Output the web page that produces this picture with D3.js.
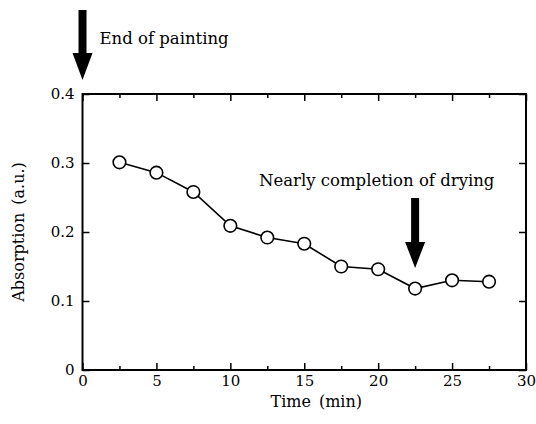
<!DOCTYPE html>
<html lang="en">
<head>
<meta charset="UTF-8">
<title>Absorption vs time</title>
<script src="https://d3js.org/d3.v7.min.js"></script>
<style>
  body { margin: 0; background: #fff; }
  svg { display: block; }
</style>
</head>
<body>
<svg id="chart" width="536" height="424"></svg>
<script>
// data
const times = [2.5, 5, 7.5, 10, 12.5, 15, 17.5, 20, 22.5, 25, 27.5];
const absorption = [0.301, 0.286, 0.258, 0.209, 0.192, 0.183, 0.150, 0.146, 0.118, 0.130, 0.128];
const xTicks = [0, 5, 10, 15, 20, 25, 30];
const xMinor = [2.5, 7.5, 12.5, 17.5, 22.5, 27.5];
const yTicks = [0, 0.1, 0.2, 0.3, 0.4];
const notes = [
  { t: 0, label: "End of painting" },
  { t: 22.5, label: "Nearly completion of drying" }
];

const serif = "'DejaVu Serif', serif";

const svg = d3.select("#chart").attr("font-family", serif);
const margin = { top: 94, right: 10, bottom: 54, left: 82.5 };
const width = 536 - margin.left - margin.right;
const height = 424 - margin.top - margin.bottom;
const g = svg.append("g").attr("transform", `translate(${margin.left},${margin.top})`);

const x = d3.scaleLinear().domain([0, 30]).range([0, width]);
const y = d3.scaleLinear().domain([0, 0.4]).range([height, 0]);

const fmtY = d => d === 0 ? "0" : d3.format(".1f")(d);

// bottom axis with labels, inward ticks
g.append("g")
  .attr("transform", `translate(0,${height})`)
  .call(d3.axisBottom(x).tickValues(xTicks).tickSizeInner(-7).tickSizeOuter(0).tickPadding(5));
g.append("g")
  .attr("transform", `translate(0,${height})`)
  .call(d3.axisBottom(x).tickValues(xMinor).tickSize(-4).tickFormat(""));

// top axis ticks
g.append("g")
  .call(d3.axisTop(x).tickValues(xTicks).tickSize(-7).tickFormat(""));
g.append("g")
  .call(d3.axisTop(x).tickValues(xMinor).tickSize(-4).tickFormat(""));

// left axis
g.append("g")
  .call(d3.axisLeft(y).tickValues(yTicks).tickFormat(fmtY).tickSizeInner(-7).tickSizeOuter(0).tickPadding(8));

// right axis ticks
g.append("g")
  .attr("transform", `translate(${width},0)`)
  .call(d3.axisRight(y).tickValues(yTicks).tickSize(-7).tickFormat(""));

svg.selectAll("g").attr("font-family", null).attr("font-size", null);
svg.selectAll(".tick text").style("font-size", "15px").style("font-family", serif);
svg.selectAll(".domain").remove();
svg.selectAll(".tick line").attr("stroke", "#000").attr("stroke-width", 1.5);

// frame
g.append("rect")
  .attr("width", width).attr("height", height)
  .attr("fill", "none").attr("stroke", "#000").attr("stroke-width", 2);

// axis titles
svg.append("text")
  .attr("x", margin.left + x(15) + 12).attr("y", 407)
  .attr("text-anchor", "middle").style("font-size", "16px")
  .text("Time\u2002(min)");
svg.append("text")
  .attr("transform", `translate(24,${margin.top + y(0.2)}) rotate(-90)`)
  .attr("text-anchor", "middle").style("font-size", "16px")
  .text("Absorption\u2002(a.u.)");

// series
const pts = times.map((t, i) => ({ t, v: absorption[i] }));
g.append("path")
  .datum(pts)
  .attr("fill", "none").attr("stroke", "#000").attr("stroke-width", 1.6)
  .attr("d", d3.line().x(d => x(d.t)).y(d => y(d.v)));
g.selectAll("circle.pt")
  .data(pts)
  .enter().append("circle")
  .attr("class", "pt")
  .attr("cx", d => x(d.t)).attr("cy", d => y(d.v))
  .attr("r", 6.3)
  .attr("fill", "#fff").attr("stroke", "#000").attr("stroke-width", 1.6);

// annotation arrows
function arrow(cx, top, headStart, tip) {
  const p = d3.path();
  p.moveTo(cx - 4, top);
  p.lineTo(cx + 4, top);
  p.lineTo(cx + 4, headStart);
  p.lineTo(cx + 10, headStart);
  p.lineTo(cx, tip);
  p.lineTo(cx - 10, headStart);
  p.lineTo(cx - 4, headStart);
  p.closePath();
  svg.append("path").attr("d", p.toString()).attr("fill", "#000");
}

const ax0 = margin.left + x(notes[0].t);
arrow(ax0, 10, 53, 80);
svg.append("text")
  .attr("x", ax0 + 17).attr("y", 44)
  .style("font-size", "16.5px")
  .text(notes[0].label);

const ax1 = margin.left + x(notes[1].t);
arrow(ax1, 198, 242, 268);
svg.append("text")
  .attr("x", 259).attr("y", 186)
  .style("font-size", "16.5px")
  .text(notes[1].label);
</script>
</body>
</html>
